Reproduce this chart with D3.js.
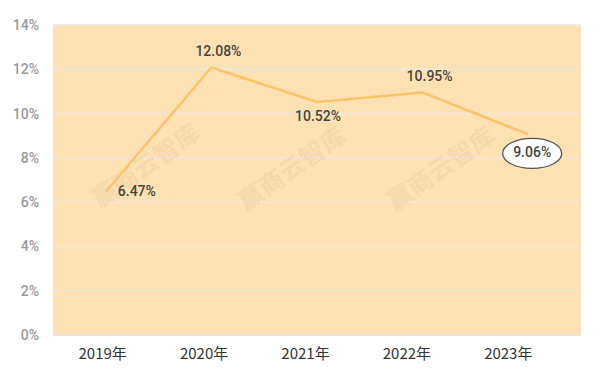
<!DOCTYPE html>
<html><head><meta charset="utf-8">
<script src="https://cdn.jsdelivr.net/npm/d3@7"></script>
<style>body{margin:0;background:#fff}svg{display:block}</style>
</head><body>
<script>
const categories = ["2019年","2020年","2021年","2022年","2023年"];
const values = [6.47, 12.08, 10.52, 10.95, 9.06];
const yTicks = [0,2,4,6,8,10,12,14];
const labelPos = ["right","above","below","above","box"];
const watermark = "赢商云智库";

const W=606,H=376;
const m={l:53,r:25,t:25,b:41};
const svg=d3.select("body").append("svg").attr("width",W).attr("height",H);
const x=d3.scaleBand().domain(categories).range([m.l,W-m.r]).padding(0);
const xl=d3.scaleBand().domain(categories).range([52,559]).padding(0);
const y=d3.scaleLinear().domain([0,14]).range([H-m.b,m.t]);

svg.append("rect").attr("x",m.l).attr("y",m.t).attr("width",W-m.r-m.l).attr("height",H-m.b-m.t).attr("fill","#fee2b3");

svg.append("g").selectAll("line").data(yTicks).join("line")
  .attr("x1",m.l).attr("x2",W-m.r).attr("y1",d=>y(d)).attr("y2",d=>y(d))
  .attr("stroke",d=>d===0?"#e6e1da":"#efe7dc").attr("stroke-width",1.5);

const lf="Roboto, 'DejaVu Sans Condensed', sans-serif";
const ya=svg.append("g").attr("transform",`translate(${m.l-11},0)`)
  .call(d3.axisLeft(y).tickValues(yTicks).tickSize(0).tickFormat(d=>d+"%"));
ya.select(".domain").remove();
ya.selectAll("text").attr("fill","#9a9a9a").attr("font-family",lf).attr("font-weight",500).attr("font-size",14);

const xa=svg.append("g").attr("transform",`translate(0,${H-m.b+7})`)
  .call(d3.axisBottom(xl).tickSize(0));
xa.select(".domain").remove();
xa.selectAll("text").attr("fill","#333").attr("font-family","'Noto Sans CJK SC', sans-serif").attr("font-size",15).attr("dy","0.9em");

// watermarks
[[147,167],[293,170],[442,170]].forEach(p=>{
  svg.append("text").attr("transform",`translate(${p[0]},${p[1]}) rotate(-35)`)
   .attr("text-anchor","middle").attr("dominant-baseline","middle")
   .attr("font-family","'Noto Sans CJK SC', sans-serif").attr("font-weight","bold").attr("font-size",25)
   .attr("fill","#e2c49a").attr("opacity",0.3).text(watermark);
});

const cx=d=>x(d)+x.bandwidth()/2;
const line=d3.line().x((d,i)=>cx(categories[i])).y(d=>y(d));
svg.append("path").datum(values).attr("d",line).attr("fill","none").attr("stroke","#fbc46c").attr("stroke-width",2.5);

values.forEach((v,i)=>{
  const px=cx(categories[i]), py=y(v);
  const pos=labelPos[i];
  if(pos==="box"){
    svg.append("ellipse").attr("cx",px+4).attr("cy",py+19).attr("rx",29.5).attr("ry",15)
      .attr("fill","#fff").attr("stroke","#555").attr("stroke-width",1.3);
  }
  const t=svg.append("text").attr("font-family",lf).attr("font-size",14).attr("font-weight",500).attr("fill","#444")
    .attr("dominant-baseline","middle").text(v.toFixed(2)+"%");
  if(pos==="right"){t.attr("x",px+12).attr("y",py+1);}
  else if(pos==="above"){t.attr("x",px+7).attr("y",py-15).attr("text-anchor","middle");}
  else if(pos==="below"){t.attr("x",px+1).attr("y",py+15).attr("text-anchor","middle");}
  else {t.attr("x",px+4).attr("y",py+19).attr("text-anchor","middle");}
});
</script>
</body></html>
